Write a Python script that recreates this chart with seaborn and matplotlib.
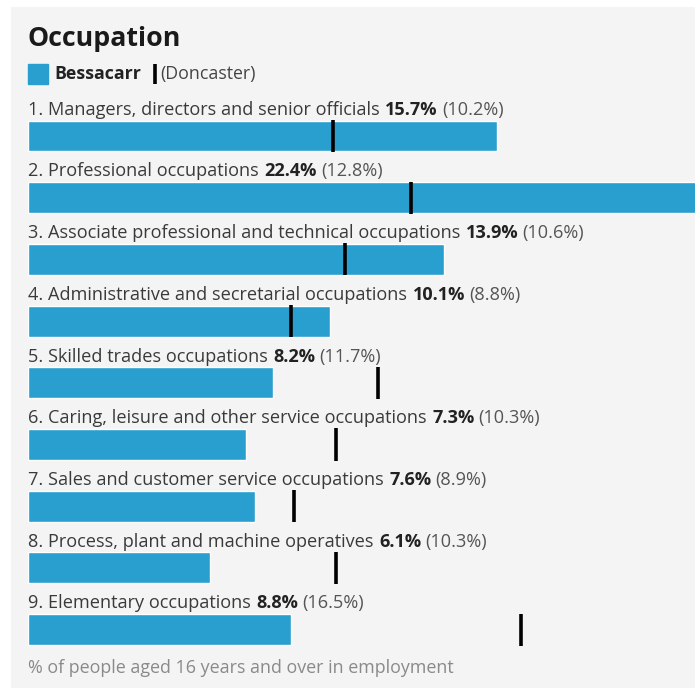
import matplotlib
matplotlib.use("Agg")
import matplotlib.pyplot as plt
from matplotlib.patches import Rectangle
import pandas as pd
import seaborn as sns

# data
occupations = [
    "1. Managers, directors and senior officials",
    "2. Professional occupations",
    "3. Associate professional and technical occupations",
    "4. Administrative and secretarial occupations",
    "5. Skilled trades occupations",
    "6. Caring, leisure and other service occupations",
    "7. Sales and customer service occupations",
    "8. Process, plant and machine operatives",
    "9. Elementary occupations",
]
bessacarr = [15.7, 22.4, 13.9, 10.1, 8.2, 7.3, 7.6, 6.1, 8.8]
doncaster = [10.2, 12.8, 10.6, 8.8, 11.7, 10.3, 8.9, 10.3, 16.5]

BLUE = "#289fce"
df = pd.DataFrame({"occupation": occupations, "pct": bessacarr})

sns.set_theme(style="white")
plt.rcParams["font.family"] = ["Open Sans", "DejaVu Sans"]

W = H = 695
fig = plt.figure(figsize=(6.95, 6.95), dpi=100, facecolor="white")

# grey panel behind everything
bg = fig.add_axes([11 / W, 7 / H, (W - 11) / W, 681 / H], zorder=-1)
bg.set_facecolor("#f4f4f4")
bg.set_xticks([])
bg.set_yticks([])
for s in bg.spines.values():
    s.set_visible(False)

# axes from x=28px to right edge, full height; ~29.9 px per percent
ax = fig.add_axes([28 / W, 0, 1 - 28 / W, 1])
ax.set_facecolor("none")
sns.barplot(data=df, x="pct", y="occupation", orient="h", color=BLUE,
            saturation=1, width=0.5, ax=ax)
ax.vlines(doncaster, [i - 0.26 for i in range(9)], [i + 0.26 for i in range(9)],
          color="black", linewidth=2.6, zorder=3)

ax.set_xlim(0, (W - 28) / 29.9)
ax.set_ylim((H - 136) / 61.7, -136 / 61.7)
ax.axis("off")

fs = 13.1
for i, (lab, v, d) in enumerate(zip(occupations, bessacarr, doncaster)):
    t1 = ax.text(0, i - 0.28, lab, fontsize=fs, color="#3a3a3a", va="bottom", ha="left")
    t2 = ax.annotate(f"{v}%", xy=(1, 0), xycoords=t1, xytext=(4, 0),
                     textcoords="offset points", fontsize=fs, fontweight="bold",
                     color="#222222", va="bottom", ha="left")
    ax.annotate(f"({d}%)", xy=(1, 0), xycoords=t2, xytext=(3, 0),
                textcoords="offset points", fontsize=fs, color="#555555",
                va="bottom", ha="left")

# title and legend
ax.text(0, -1.58, "Occupation", fontsize=19.3, fontweight="bold", color="#1a1a1a",
        va="center", ha="left")
ax.add_patch(Rectangle((0, -1.16), 20 / 29.9, 20 / 61.7, color=BLUE, clip_on=False))
ax.text(26 / 29.9, -1.0, "Bessacarr", fontsize=12.8, fontweight="bold",
        color="#222222", va="center", ha="left")
ax.vlines(127 / 29.9, -1.16, -0.84, color="black", linewidth=2.6)
ax.text(132 / 29.9, -1.0, "(Doncaster)", fontsize=12.8, color="#444444",
        va="center", ha="left")

ax.text(0, 8.62, "% of people aged 16 years and over in employment", fontsize=12.9,
        color="#8a8a8a", va="center", ha="left")

fig.savefig("out.png", dpi=100, facecolor="white")
